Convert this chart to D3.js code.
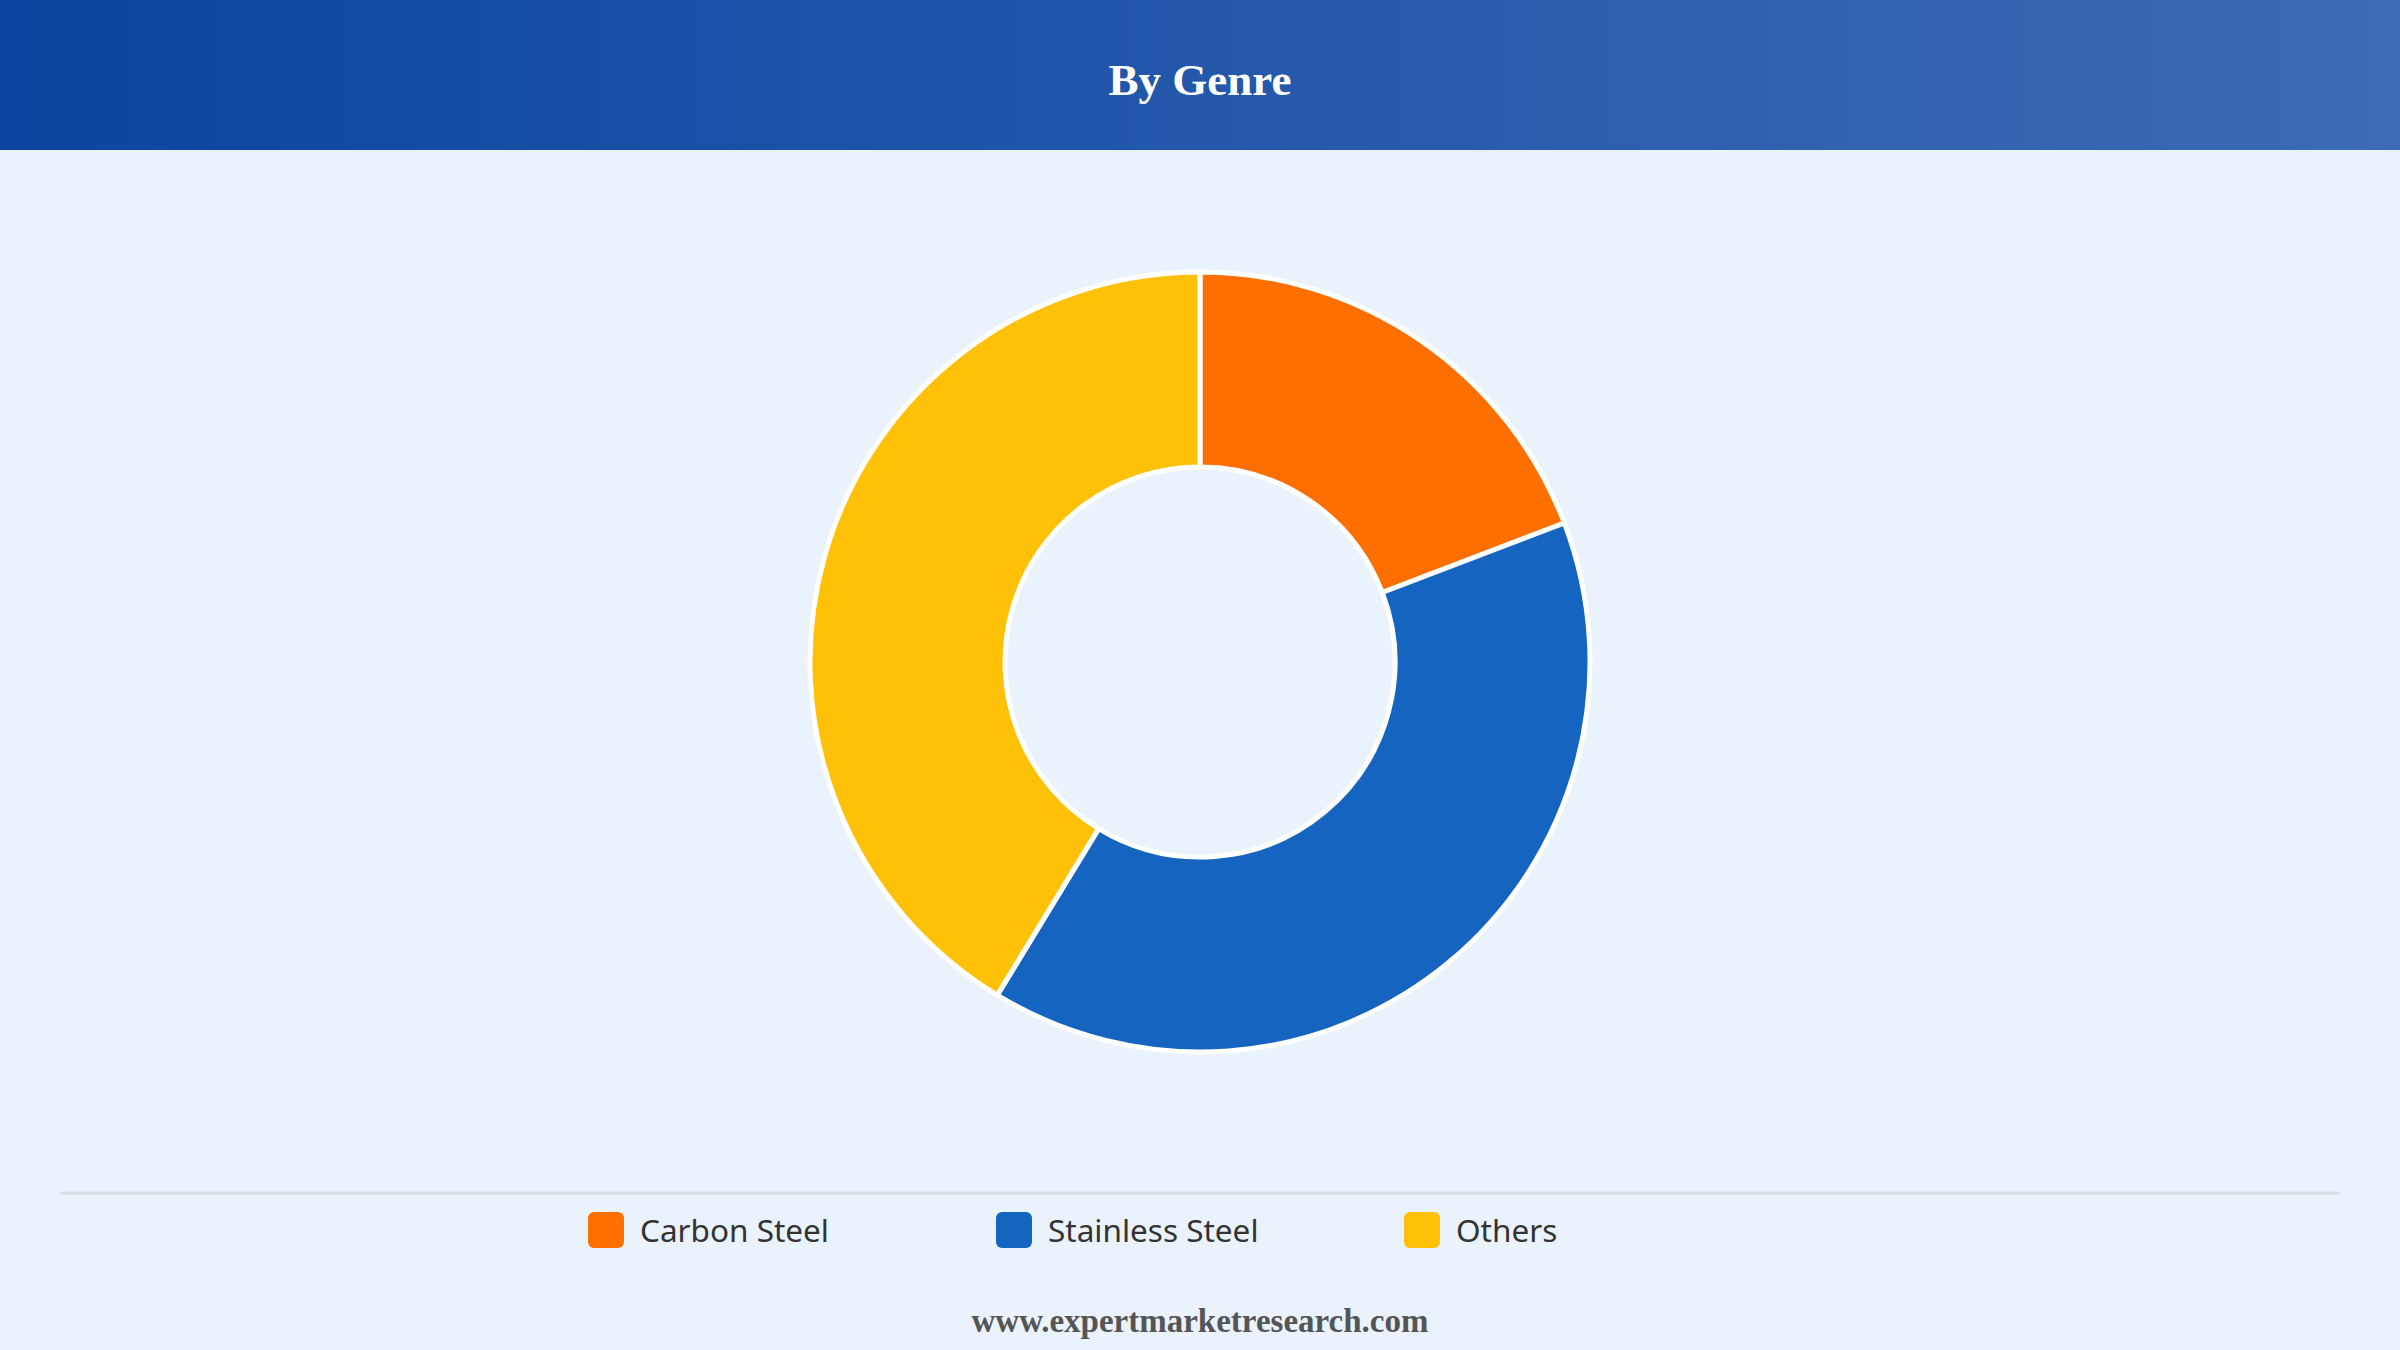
<!DOCTYPE html>
<html>
<head>
<meta charset="utf-8">
<script src="https://cdn.jsdelivr.net/npm/d3@7/dist/d3.min.js"></script>
<style>
  html, body { margin: 0; padding: 0; background: #eaf2fc; }
  svg { display: block; }
</style>
</head>
<body>
<svg id="chart" width="2400" height="1350"></svg>
<script>
const title = "By Genre";
const categories = ["Carbon Steel", "Stainless Steel", "Others"];
const values = [19.2, 39.5, 41.3];
const colors = ["#ff6f00", "#1565c0", "#ffc107"];
const footer = "www.expertmarketresearch.com";

const W = 2400, H = 1350;
const svg = d3.select("#chart");

// background
svg.append("rect").attr("width", W).attr("height", H).attr("fill", "#eaf2fc");

// header gradient
const defs = svg.append("defs");
const grad = defs.append("linearGradient").attr("id", "hdr").attr("x1", "0%").attr("x2", "100%");
grad.append("stop").attr("offset", "0%").attr("stop-color", "#0b44a0");
grad.append("stop").attr("offset", "100%").attr("stop-color", "#3d6bb5");
svg.append("rect").attr("width", W).attr("height", 150).attr("fill", "url(#hdr)");
svg.append("text")
  .attr("x", W / 2).attr("y", 95)
  .attr("text-anchor", "middle")
  .attr("font-family", "'Liberation Serif', 'Times New Roman', serif")
  .attr("font-weight", "bold")
  .attr("font-size", 45)
  .attr("fill", "#ffffff")
  .text(title);

// donut
const cx = 1200, cy = 662;
const color = d3.scaleOrdinal().domain(categories).range(colors);
const pie = d3.pie().sort(null).value(d => d.value);
const arc = d3.arc().innerRadius(195).outerRadius(390);
const data = categories.map((c, i) => ({ name: c, value: values[i] }));
const g = svg.append("g").attr("transform", `translate(${cx},${cy})`);
g.selectAll("path").data(pie(data)).join("path")
  .attr("d", arc)
  .attr("fill", d => color(d.data.name))
  .attr("stroke", "#ffffff")
  .attr("stroke-width", 5)
  .attr("stroke-linejoin", "round");

// separator line
svg.append("line")
  .attr("x1", 60).attr("x2", 2340)
  .attr("y1", 1193).attr("y2", 1193)
  .attr("stroke", "#dadde2").attr("stroke-width", 3);

// legend
const legendX = d3.scaleOrdinal().domain(categories).range([588, 996, 1404]);
const lg = svg.append("g");
const items = lg.selectAll("g").data(categories).join("g")
  .attr("transform", d => `translate(${legendX(d)},1212)`);
items.append("rect")
  .attr("width", 36).attr("height", 36).attr("rx", 6).attr("ry", 6)
  .attr("fill", d => color(d));
items.append("text")
  .attr("x", 52).attr("y", 30)
  .attr("font-family", "'Segoe UI', 'Noto Sans', 'Open Sans', sans-serif")
  .attr("font-size", 31.5)
  .attr("fill", "#333333")
  .text(d => d);

// footer
svg.append("text")
  .attr("x", W / 2).attr("y", 1332)
  .attr("text-anchor", "middle")
  .attr("font-family", "'Liberation Serif', 'Times New Roman', serif")
  .attr("font-weight", "bold")
  .attr("font-size", 33)
  .attr("fill", "#555555")
  .text(footer);
</script>
</body>
</html>
